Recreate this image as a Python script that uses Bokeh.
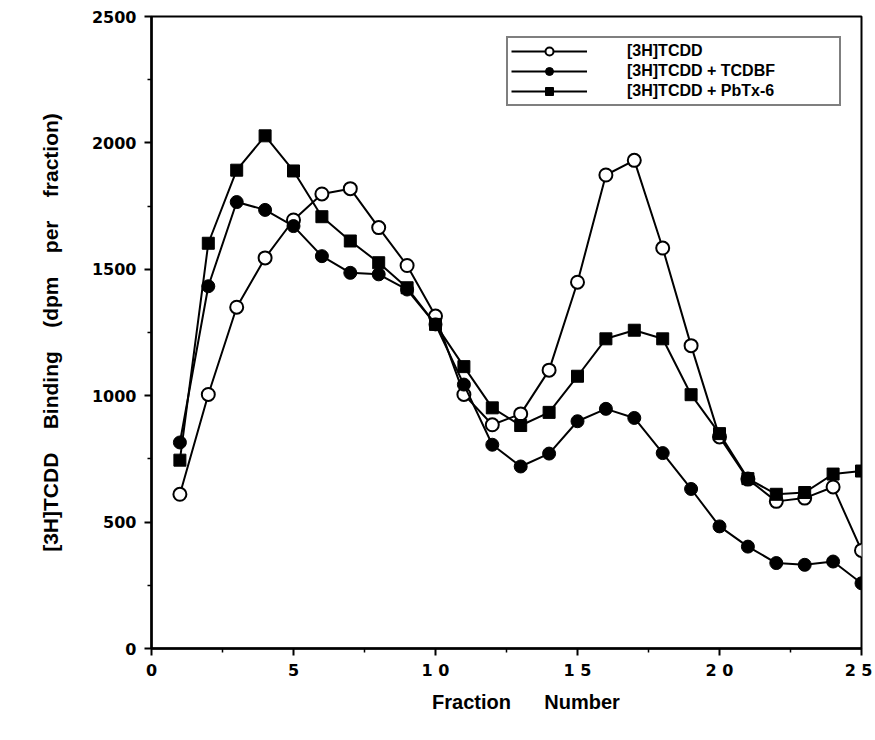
from bokeh.plotting import figure
from bokeh.models import Legend, LegendItem, FixedTicker, Range1d
from bokeh.embed import file_html
from bokeh.resources import INLINE

# ---- data ----
fractions = list(range(1, 26))
tcdd = [610, 1005, 1350, 1545, 1695, 1798, 1819, 1665, 1515, 1315,
        1005, 885, 928, 1101, 1449, 1873, 1931, 1584, 1198, 837,
        670, 582, 595, 639, 388]
tcdd_tcdbf = [815, 1433, 1766, 1735, 1671, 1552, 1486, 1480, 1420, 1282,
              1044, 806, 720, 771, 899, 948, 912, 773, 631, 483,
              403, 338, 331, 344, 258]
tcdd_pbtx = [745, 1603, 1892, 2028, 1889, 1708, 1612, 1526, 1427, 1282,
             1115, 952, 882, 934, 1077, 1225, 1259, 1225, 1004, 850,
             672, 610, 617, 690, 702]

series_labels = ["[3H]TCDD", "[3H]TCDD + TCDBF", "[3H]TCDD + PbTx-6"]
x_ticks = [0, 5, 10, 15, 20, 25]
x_tick_labels = ["0", "5", "1 0", "1 5", "2 0", "2 5"]
x_minor = [2.5, 7.5, 12.5, 17.5, 22.5]
y_ticks = [0, 500, 1000, 1500, 2000, 2500]
y_minor = [250, 750, 1250, 1750, 2250]

nb = "\u00a0"
x_title = nb * 7 + "Fraction" + nb * 6 + "Number"
y_title = (nb * 4).join(["[3H]TCDD", "Binding", "(dpm", "per", "fraction)"])

p = figure(width=872, height=730, output_backend="svg", toolbar_location=None,
           x_range=Range1d(0, 25), y_range=Range1d(0, 2500),
           min_border_left=151, min_border_right=11, min_border_top=16,
           min_border_bottom=82)

p.xgrid.visible = False
p.ygrid.visible = False
p.outline_line_color = "black"
p.outline_line_width = 2
p.background_fill_color = "white"
p.border_fill_color = "white"

LW = 2
MS = 13
r1l = p.line(fractions, tcdd, line_color="black", line_width=LW)
r1s = p.scatter(fractions, tcdd, marker="circle", size=MS,
                fill_color="white", line_color="black", line_width=2)
r2l = p.line(fractions, tcdd_tcdbf, line_color="black", line_width=LW)
r2s = p.scatter(fractions, tcdd_tcdbf, marker="circle", size=MS,
                fill_color="black", line_color="black")
r3l = p.line(fractions, tcdd_pbtx, line_color="black", line_width=LW)
r3s = p.scatter(fractions, tcdd_pbtx, marker="square", size=MS - 1,
                fill_color="black", line_color="black")

# axes
p.xaxis.ticker = FixedTicker(ticks=x_ticks, minor_ticks=x_minor)
p.xaxis.major_label_overrides = {t: l for t, l in zip(x_ticks, x_tick_labels)}
p.yaxis.ticker = FixedTicker(ticks=y_ticks, minor_ticks=y_minor)
for ax in (p.xaxis, p.yaxis):
    ax.axis_line_width = 2.5
    ax.axis_line_color = "black"
    ax.major_tick_line_color = "black"
    ax.minor_tick_line_color = "black"
    ax.major_tick_line_width = 2
    ax.minor_tick_line_width = 1.5
    ax.major_tick_out = 7
    ax.major_tick_in = 0
    ax.minor_tick_out = 4
    ax.minor_tick_in = 0
    ax.major_label_text_font = "DejaVu Sans"
    ax.major_label_text_font_style = "bold"
    ax.major_label_text_font_size = "16px"
    ax.major_label_text_color = "black"
    ax.axis_label_text_font = "Liberation Sans"
    ax.axis_label_text_font_style = "bold"
    ax.axis_label_text_color = "black"

p.xaxis.axis_label_text_font_size = "20px"
p.yaxis.axis_label_text_font_size = "21px"
p.xaxis.major_label_standoff = 5
p.yaxis.major_label_standoff = 8
p.xaxis.axis_label = x_title
p.yaxis.axis_label = y_title
p.xaxis.axis_label_standoff = 8
p.yaxis.axis_label_standoff = 27

legend = Legend(items=[
    LegendItem(label=series_labels[0], renderers=[r1l, r1s]),
    LegendItem(label=series_labels[1], renderers=[r2l, r2s]),
    LegendItem(label=series_labels[2], renderers=[r3l, r3s]),
], location="top_right")
legend.margin = 20
legend.padding = 3
legend.spacing = 0
legend.glyph_width = 76
legend.glyph_height = 20
legend.label_height = 17
legend.label_standoff = 40
legend.label_width = 209
legend.label_text_font = "Liberation Sans"
legend.label_text_font_style = "bold"
legend.label_text_font_size = "16px"
legend.label_text_color = "black"
legend.border_line_color = "black"
legend.border_line_width = 2
legend.background_fill_color = "white"
legend.background_fill_alpha = 1
p.add_layout(legend)

open("out.html", "w").write(file_html(p, INLINE))
